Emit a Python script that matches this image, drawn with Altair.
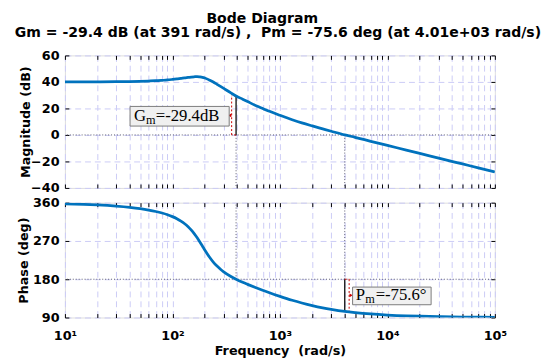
import altair as alt
import pandas as pd

# ---------------- data ----------------
freq = [10, 15, 20, 30, 40, 50, 60, 70, 80, 90, 100, 110, 120, 130, 140, 150,
        160, 170, 180, 190, 200, 220, 240, 260, 280, 300, 350, 391, 450, 500,
        600, 700, 800, 1000, 1300, 1600, 2000, 2500, 3000, 4010, 5000, 7000,
        10000, 15000, 20000, 30000, 50000, 70000, 100000]
mag_db = [40.0, 40.0, 40.1, 40.2, 40.3, 40.5, 40.7, 40.9, 41.2, 41.5, 41.9,
          42.3, 42.7, 43.1, 43.4, 43.7, 43.9, 44.0, 43.8, 43.5, 43.0, 41.5,
          39.9, 38.2, 36.6, 35.1, 31.7, 29.4, 27.0, 25.2, 22.1, 19.8, 17.8,
          14.8, 11.5, 9.1, 6.8, 4.6, 2.8, 0.0, -1.8, -4.8, -7.9, -11.4, -13.9,
          -17.5, -21.9, -24.8, -27.9]
phase_deg = [357.3, 355.9, 354.6, 351.8, 348.9, 345.9, 342.7, 339.3, 335.6,
             331.6, 327.2, 322.3, 316.7, 310.4, 303.4, 295.4, 286.7, 277.4,
             267.7, 258.1, 248.9, 233.0, 220.5, 210.9, 203.4, 197.4, 186.5,
             180.0, 172.8, 167.9, 159.9, 153.5, 148.1, 139.7, 130.5, 124.1,
             118.0, 112.8, 109.2, 104.4, 101.7, 98.4, 95.9, 93.9, 93.0, 92.0,
             91.2, 90.9, 90.6]

x_tick_values = [10, 20, 30, 40, 50, 60, 70, 80, 90,
                 100, 200, 300, 400, 500, 600, 700, 800, 900,
                 1000, 2000, 3000, 4000, 5000, 6000, 7000, 8000, 9000,
                 10000, 20000, 30000, 40000, 50000, 60000, 70000, 80000, 90000,
                 100000]
x_label_values = [10, 100, 1000, 10000, 100000]
x_label_texts = ["10¹", "10²", "10³", "10⁴", "10⁵"]
mag_ticks = [-40, -20, 0, 20, 40, 60]
phase_ticks = [90, 180, 270, 360]

gm_freq = 391
gm_db = 29.4
pm_freq = 4010
pm_phase = 104.4
gm_parts = ["G", "m", "=-29.4dB"]
pm_parts = ["P", "m", "=-75.6°"]

title_main = "Bode Diagram"
title_sub = "Gm = -29.4 dB (at 391 rad/s) , \u00a0Pm = -75.6 deg (at 4.01e+03 rad/s)"
x_title = "Frequency \u00a0(rad/s)"
mag_title = "Magnitude (dB)"
phase_title = "Phase (deg)"

# ---------------- styling ----------------
W = 438
H_MAG = 135
H_PH = 117
BLUE = "#0072BD"
GRID = "#cbcbf6"
RED = "#cc0000"
FONT = "DejaVu Sans"
SERIF = "Liberation Serif"

df = pd.DataFrame({"f": freq, "mag": mag_db, "ph": phase_deg})
xs = alt.Scale(type="log", domain=[10, 100000], nice=False)

label_expr = ""
for v, t in zip(x_label_values, x_label_texts):
    label_expr += f"datum.value == {v} ? '{t}' : "
label_expr += "''"


def axis_layers(ycol, ys, yticks, ytitle, title_x, bottom_labels):
    base = alt.Chart(df)
    xaxis = dict(orient="bottom", values=x_tick_values, grid=True, gridColor=GRID,
                 gridDash=[6, 4], gridWidth=1, ticks=False, tickSize=0, domain=False,
                 labels=bottom_labels, labelOverlap=False, labelFlush=False)
    if bottom_labels:
        xaxis.update(labelExpr=label_expr, labelFont=FONT, labelFontWeight="bold",
                     labelFontSize=13, labelColor="black", labelBaseline="alphabetic",
                     labelPadding=22, titleFont=FONT, titleFontWeight="bold",
                     titleFontSize=13, titleColor="black", titleBaseline="alphabetic",
                     titleY=38)
    grid = base.mark_line(opacity=0).encode(
        x=alt.X("f:Q", scale=xs, title=x_title if bottom_labels else "",
                axis=alt.Axis(**xaxis)),
        y=alt.Y(f"{ycol}:Q", scale=ys, title=ytitle,
                axis=alt.Axis(orient="left", values=yticks, grid=True, gridColor=GRID,
                              gridDash=[6, 4], gridWidth=1, ticks=False, tickSize=0,
                              domain=False, labelOverlap=False, labelFlush=False,
                              labelFont=FONT, labelFontWeight="bold", labelFontSize=13,
                              labelColor="black", labelPadding=6,
                              titleFont=FONT, titleFontWeight="bold", titleFontSize=13,
                              titleColor="black", titleX=title_x,
                              titleBaseline="middle")),
    )
    tick_layers = []
    for xo, yo in [("bottom", "left"), ("top", "right")]:
        tick_layers.append(base.mark_line(opacity=0).encode(
            x=alt.X("f:Q", scale=xs, title="",
                    axis=alt.Axis(orient=xo, values=x_tick_values, grid=False,
                                  labels=False, domain=False, ticks=True, tickSize=4,
                                  offset=-4, tickColor="black", tickWidth=1)),
            y=alt.Y(f"{ycol}:Q", scale=ys, title="",
                    axis=alt.Axis(orient=yo, values=yticks, grid=False, labels=False,
                                  domain=False, ticks=True, tickSize=4, offset=-4,
                                  tickColor="black", tickWidth=1)),
        ))
    return [grid] + tick_layers


def curve(ycol, ys):
    return alt.Chart(df).mark_line(color=BLUE, strokeWidth=2.8, interpolate="monotone",
                                   clip=True).encode(
        x=alt.X("f:Q", scale=xs, axis=None),
        y=alt.Y(f"{ycol}:Q", scale=ys, axis=None),
    )


def marker_layers(ys, ref, cross_f, cross_v, edge, side, box_mid, box_dx,
                  box_half, parts, text_dx):
    """ref: reference line value; cross_f/cross_v: margin point; side: -1 left, +1 right"""
    X = lambda: alt.X("f:Q", scale=xs, axis=None)
    Y = lambda: alt.Y("y:Q", scale=ys, axis=None)
    layers = []
    layers.append(alt.Chart(pd.DataFrame({"y": [ref]})).mark_rule(
        color="#5a5a6e", strokeDash=[1, 2], strokeWidth=1).encode(y=Y()))
    layers.append(alt.Chart(pd.DataFrame({"f": [gm_freq, pm_freq], "y": [ref, ref],
                                          "y2": [edge, edge]})).mark_rule(
        color="#5a5a6e", strokeDash=[1, 2], strokeWidth=1).encode(x=X(), y=Y(), y2="y2:Q"))
    seg = pd.DataFrame({"f": [cross_f], "y": [ref], "y2": [cross_v]})
    layers.append(alt.Chart(seg).mark_rule(color="#1a1a1a", strokeWidth=1.4).encode(
        x=X(), y=Y(), y2="y2:Q"))
    off = 4.5 * side
    layers.append(alt.Chart(seg).mark_rule(color=RED, strokeDash=[2, 2], strokeWidth=1,
                                           xOffset=off).encode(x=X(), y=Y(), y2="y2:Q"))
    ends = pd.DataFrame({"f": [cross_f, cross_f], "y": [ref, cross_v]})
    layers.append(alt.Chart(ends).mark_rule(color=RED, strokeDash=[2, 2], strokeWidth=1,
                                            xOffset=0, x2Offset=off).encode(
        x=X(), x2="f:Q", y=Y()))
    mid = pd.DataFrame({"f": [cross_f], "y": [(ref + cross_v) / 2]})
    layers.append(alt.Chart(mid).mark_point(
        shape="triangle-left" if side < 0 else "triangle-right", filled=True, size=14,
        color=RED, opacity=1, xOffset=off + 2 * side).encode(x=X(), y=Y()))
    box = pd.DataFrame({"f": [cross_f], "y": [box_mid]})
    layers.append(alt.Chart(box).mark_rect(
        fill="#f0f0f0", stroke="#7a7a7a", strokeWidth=1, xOffset=box_dx[0],
        x2Offset=box_dx[1], yOffset=-box_half, y2Offset=box_half).encode(
        x=X(), x2="f:Q", y=Y(), y2="y:Q"))
    sizes = [17, 12.5, 17]
    dys = [4.5, 7.5, 4.5]
    for part, dx, fs, dy in zip(parts, text_dx, sizes, dys):
        layers.append(alt.Chart(box).mark_text(
            text=part, font=SERIF, fontSize=fs, color="black", align="left",
            baseline="alphabetic", dx=dx, dy=dy).encode(x=X(), y=Y()))
    return layers


ys_mag = alt.Scale(domain=[-40, 60], nice=False, zero=False)
ys_ph = alt.Scale(domain=[90, 360], nice=False, zero=False)

top = alt.layer(
    *axis_layers("mag", ys_mag, mag_ticks, mag_title, -40.5, False),
    *marker_layers(ys_mag, 0, gm_freq, gm_db, -40, -1, 14.1, (-108, -7), 10,
                   gm_parts, (-104, -91.8, -81.8)),
    curve("mag", ys_mag),
).resolve_axis(x="independent", y="independent").properties(
    width=W, height=H_MAG,
    title=alt.Title(title_sub, font=FONT, fontSize=14.3, fontWeight="bold", color="black",
                    anchor="middle", offset=9, dx=-2),
)

bottom = alt.layer(
    *axis_layers("ph", ys_ph, phase_ticks, phase_title, -42, True),
    *marker_layers(ys_ph, 180, pm_freq, pm_phase, 360, 1, 140.8, (8, 88), 9,
                   pm_parts, (11.3, 20.8, 31.5)),
    curve("ph", ys_ph),
).resolve_axis(x="independent", y="independent").properties(width=W, height=H_PH)

chart = alt.vconcat(top, bottom, spacing=15, bounds="flush").properties(
    title=alt.Title(title_main, font=FONT, fontSize=14.3, fontWeight="bold", color="black",
                    anchor="middle", offset=0, dx=-16),
    padding={"left": 6, "top": 0, "right": 0, "bottom": 0},
).configure_view(stroke="black", strokeWidth=1).configure(background="white")

chart.save("out.html", embed_options={"renderer": "svg", "actions": False})
